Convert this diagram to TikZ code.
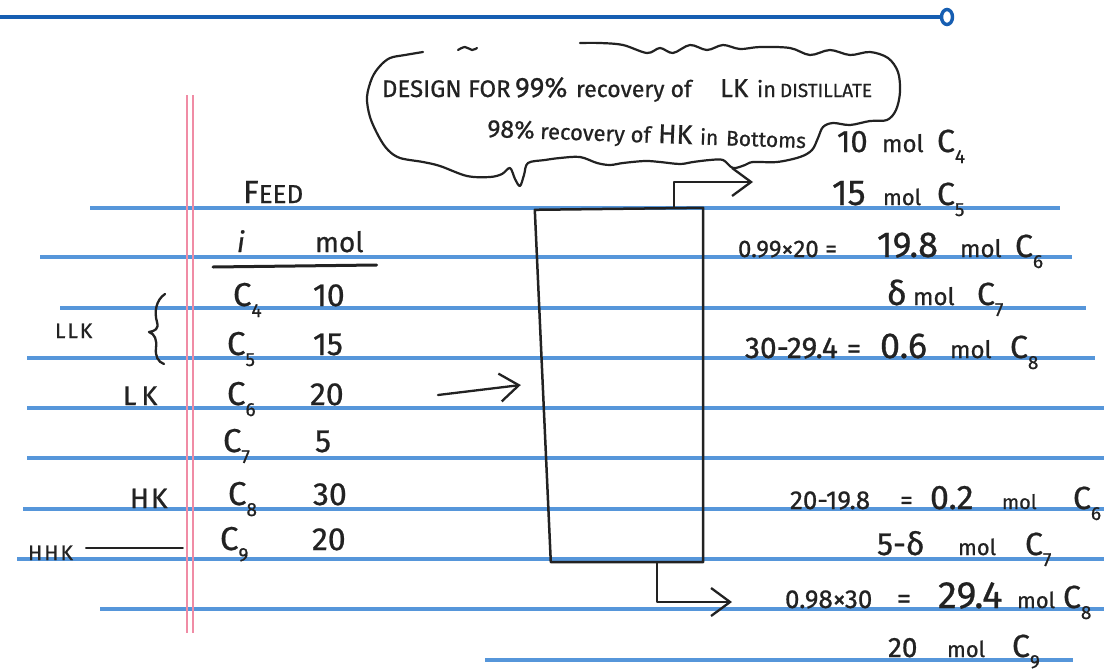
\documentclass[tikz,border=0pt]{standalone}
\usepackage{fontspec}
\setmainfont{Fira Sans}[FakeBold=0.7]
\usetikzlibrary{arrows.meta}
\definecolor{ink}{RGB}{34,34,34}
\definecolor{ruleblue}{RGB}{86,150,218}
\definecolor{marginpink}{RGB}{240,140,165}
\definecolor{topblue}{RGB}{22,94,178}
\newcommand\fs[2]{{\fontsize{#1}{#1}\selectfont #2}}
\newcommand\pw[3]{\makebox[#1pt][l]{\fs{#2}{#3}}}
\newcommand\Cs[2][32]{\fs{#1}{C}\raisebox{-11pt}{\fs{19}{#2}}}
\begin{document}
\begin{tikzpicture}[x=1pt,y=-1pt,
  ruled/.style={ruleblue, line width=4.2pt},
  marg/.style={marginpink, line width=2.6pt},
  inkline/.style={draw=ink, line width=2.3pt, line cap=round, line join=round},
  arr/.style={inkline, -{Straight Barb[length=19pt,width=28pt]}},
  txt/.style={text=ink, inner sep=0pt, outer sep=0pt, anchor=base west},
  column/.style={draw=none, inner sep=0pt, minimum width=166pt, minimum height=354pt}]
\useasboundingbox[fill=white] (0,0) rectangle (1104,672);

% ruled notebook lines
\foreach \y/\a/\b in {208/90/1060, 257/40/1072, 308/60/1086, 358/27/1095, 408/27/1104, 458/27/1104, 509/23/1104, 559/17/1104, 609/100/1104, 660/485/1073}
  \draw[ruled] (\a,\y) -- (\b,\y);
% margin
\draw[marg] (187,95) -- (187,633);
\draw[marg] (193,95) -- (193,633);
% top rule with open end
\draw[topblue, line width=3.4pt] (0,17) -- (941,17);
\draw[topblue, line width=3.4pt, fill=white] (947,17) ellipse [x radius=5.5, y radius=7.5];

% cloud callout
\draw[inkline, line width=2.2pt] plot[smooth, tension=0.55] coordinates {
 (423,52) (405,55) (390,58) (380,66) (372,78) (367,97) (370,117) (379,137) (388,150) (400,158)
 (423,162) (440,166) (467,176) (490,177) (502,174) (510,168) (515,179) (520,186) (524,175) (528,163)
 (545,160) (560,158) (580,157) (597,163) (610,165) (623,163) (645,161) (660,162) (680,164) (693,162)
 (710,160) (723,160) (733,168) (745,165) (753,162) (777,162) (800,157) (812,150) (818,138) (823,127)
 (833,123) (850,125) (870,121) (887,120) (896,110) (900,92) (898,72) (888,58) (870,52) (850,55)
 (830,50) (810,55) (790,48) (760,47) (740,49) (723,45) (707,50) (690,45) (673,53) (660,48) (647,53)
 (623,45) (600,43) (580,43)};
\draw[inkline, line width=2.2pt] plot[smooth, tension=0.6] coordinates {(458,50) (465,47) (472,50) (477,48)};

\node[txt] (cl1) at (382,97) {\pw{133}{24}{DESIGN FOR}\pw{61}{28}{99\%}\pw{144}{23}{recovery of}\pw{37}{26}{LK}\pw{23}{22}{in}\fs{19}{DISTILLATE}};
\node[txt, rotate=-2] (cl2) at (487,137) {\pw{53}{25}{98\%}\pw{118}{22}{recovery of}\pw{42}{27}{HK}\pw{26}{21}{in}\fs{21}{Bottoms}};

% feed table
\node[txt] (feed) at (243,203) {\fs{32}{F}\fs{26}{EED}};
\node[txt] (hi) at (237,252) {\fs{28}{\itshape i}};
\node[txt] (hmol) at (315,252) {\fs{28}{mol}};
\draw[inkline, line width=3pt] ([xshift=-24pt,yshift=-15pt]hi.base west) -- ([xshift=13pt,yshift=-13pt]hmol.base east);

\node[txt] (c4) at (233,306) {\Cs[33]{4}};  \node[txt] (n4) at (313,306) {\fs{32}{10}};
\node[txt] (c5) at (227,355) {\Cs[33]{5}};  \node[txt] (n5) at (313,355) {\fs{32}{15}};
\node[txt] (c6) at (227,405) {\Cs[33]{6}};  \node[txt] (n6) at (310,405) {\fs{32}{20}};
\node[txt] (c7) at (223,452) {\Cs[33]{7}};  \node[txt] (n7) at (315,452) {\fs{32}{5}};
\node[txt] (c8) at (228,505) {\Cs[33]{8}};  \node[txt] (n8) at (313,505) {\fs{32}{30}};
\node[txt] (c9) at (220,550) {\Cs[33]{9}};  \node[txt] (n9) at (312,550) {\fs{32}{20}};

% key labels
\node[txt] (llk) at (55,338) {\fs{21}{L\kern2pt L\kern2pt K}};
\draw[inkline] (165,294) .. controls (156,300) and (154,312) .. (157,322)
  .. controls (159,329) and (155,331) .. (149,332)
  .. controls (155,334) and (157,340) .. (156,348)
  .. controls (155,356) and (158,362) .. (164,364);
\node[txt] (lk) at (123,405) {\fs{27}{L\kern5pt K}};
\node[txt] (hk) at (130,508) {\fs{28}{H\kern2pt K}};
\node[txt] (hhk) at (28,560) {\fs{21}{H\kern2pt H\kern2pt K}};
\draw[inkline, line width=1.8pt] ([xshift=13pt,yshift=5pt]hhk.east) -- ([xshift=110pt,yshift=5pt]hhk.east);

% column
\node[column] (col) at (620,385) {};
\draw[inkline, line width=2.5pt] ([xshift=-2pt,yshift=-2pt]col.north west) -- (col.north east) -- (col.south east) -- ([xshift=14pt]col.south west) -- cycle;
\coordinate (feedstart) at (438,395);
\draw[arr] (feedstart) -- ([xshift=-16pt]col.west);
\coordinate (dtip) at (753,182);
\coordinate (dtop) at ([xshift=54pt]col.north);
\draw[arr] (dtop) -- (dtop |- dtip) -- (dtip);
\coordinate (btip) at (732,602);
\coordinate (bbot) at ([xshift=37pt]col.south);
\draw[arr] (bbot) -- (bbot |- btip) -- (btip);

% distillate
\node[txt] (d1) at (837,152) {\pw{45}{31}{10}\pw{55}{24}{mol}\Cs{4}};
\node[txt] (d2) at (832,205) {\pw{51}{36}{15}\pw{54}{22}{mol}\Cs{5}};
\node[txt] (d3) at (738,257) {\pw{139}{24}{0.99×20 =}\pw{83}{36}{19.8}\pw{55}{24}{mol}\Cs{6}};
\node[txt] (d4) at (887,305) {\pw{26}{34}{δ}\pw{64}{24}{mol}\Cs{7}};
\node[txt] (d5) at (745,358) {\pw{102}{30}{30-29.4}\pw{33}{28}{=}\pw{70}{36}{0.6}\pw{60}{24}{mol}\Cs{8}};
% bottoms
\node[txt] (b1) at (790,509) {\pw{110}{26}{20-19.8}\pw{30}{26}{=}\pw{72}{34}{0.2}\pw{71}{20}{mol}\Cs{6}};
\node[txt] (b2) at (877,555) {\pw{81}{32}{5-δ}\pw{67}{22}{mol}\Cs{7}};
\node[txt] (b3) at (785,608) {\pw{112}{26}{0.98×30}\pw{41}{28}{=}\pw{79}{38}{29.4}\pw{46}{22}{mol}\Cs{8}};
\node[txt] (b4) at (888,657) {\pw{59}{28}{20}\pw{65}{22}{mol}\Cs{9}};
\end{tikzpicture}
\end{document}
